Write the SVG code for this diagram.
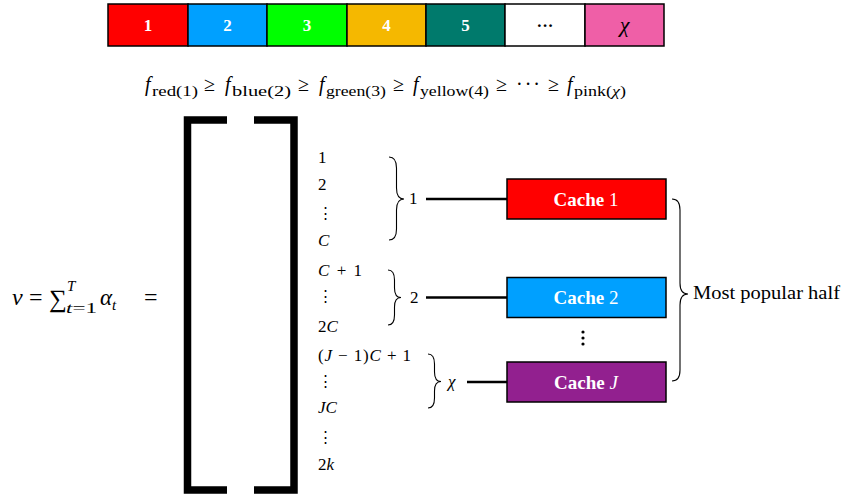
<svg xmlns="http://www.w3.org/2000/svg" width="843" height="496" viewBox="0 0 843 496">
<style>
.s{font-family:"Liberation Serif","DejaVu Serif",serif;fill:#000}
.i{font-style:italic}
.cell{stroke:#000;stroke-width:1.5}
.cl{font-family:"Liberation Serif","DejaVu Serif",serif;font-weight:bold;font-size:17px;fill:#fff;text-anchor:middle}
.box{stroke:#000;stroke-width:1.5}
.bl{font-family:"Liberation Serif","DejaVu Serif",serif;font-size:19px;fill:#fff;text-anchor:middle}
.col{font-family:"Liberation Serif","DejaVu Serif",serif;font-size:17px;fill:#000}
.vd{font-family:"DejaVu Serif",serif;font-size:15px;fill:#000}
.brace{fill:none;stroke:#000;stroke-width:1.1}
.conn{stroke:#000;stroke-width:2.5}
.bk{fill:none;stroke:#000;stroke-width:7.5;stroke-linejoin:miter;stroke-linecap:butt}
</style>
<rect width="843" height="496" fill="#fff"/>

<g id="colorbar">
  <rect class="cell" x="108" y="4" width="80" height="42" fill="#ff0000"/>
  <rect class="cell" x="188" y="4" width="79" height="42" fill="#00a0ff"/>
  <rect class="cell" x="267" y="4" width="80" height="42" fill="#00ff00"/>
  <rect class="cell" x="347" y="4" width="79" height="42" fill="#f5b800"/>
  <rect class="cell" x="426" y="4" width="79" height="42" fill="#007a6c"/>
  <rect class="cell" x="505" y="4" width="80" height="42" fill="#ffffff"/>
  <rect class="cell" x="585" y="4" width="79" height="42" fill="#ef5fa7"/>
  <text class="cl" x="148" y="31">1</text>
  <text class="cl" x="227.5" y="31">2</text>
  <text class="cl" x="307" y="31">3</text>
  <text class="cl" x="386.5" y="31">4</text>
  <text class="cl" x="465.5" y="31">5</text>
  <text class="cl" x="545" y="31" style="fill:#000">···</text>
  <text class="s i" x="624.5" y="32" font-size="22" text-anchor="middle">χ</text>
</g>

<g id="ordering">
  <text class="s i" x="145" y="91" font-size="20">f</text>
  <text class="s" x="152" y="96" font-size="14.5" textLength="46" lengthAdjust="spacingAndGlyphs">red(1)</text>
  <text class="s" x="204" y="91" font-size="20">≥</text>
  <text class="s i" x="225" y="91" font-size="20">f</text>
  <text class="s" x="232" y="96" font-size="14.5" textLength="59" lengthAdjust="spacingAndGlyphs">blue(2)</text>
  <text class="s" x="298" y="91" font-size="20">≥</text>
  <text class="s i" x="319" y="91" font-size="20">f</text>
  <text class="s" x="326" y="96" font-size="14.5" textLength="60" lengthAdjust="spacingAndGlyphs">green(3)</text>
  <text class="s" x="393" y="91" font-size="20">≥</text>
  <text class="s i" x="413" y="91" font-size="20">f</text>
  <text class="s" x="420" y="96" font-size="14.5" textLength="69" lengthAdjust="spacingAndGlyphs">yellow(4)</text>
  <text class="s" x="496" y="91" font-size="20">≥</text>
  <text class="s" x="516" y="91" font-size="20" textLength="24" lengthAdjust="spacing">···</text>
  <text class="s" x="548" y="91" font-size="20">≥</text>
  <text class="s i" x="567" y="91" font-size="20">f</text>
  <text class="s" x="574" y="96" font-size="14.5" textLength="52" lengthAdjust="spacingAndGlyphs">pink(<tspan font-style="italic">χ</tspan>)</text>
</g>

<g id="vformula">
  <text class="s i" x="12" y="305" font-size="24">v</text>
  <text class="s" x="29" y="305" font-size="24">=</text>
  <text class="s" x="49" y="307" font-size="25">∑</text>
  <text class="s i" x="67" y="291" font-size="15">T</text>
  <text class="s" x="66" y="313" font-size="15" textLength="31" lengthAdjust="spacingAndGlyphs"><tspan font-style="italic">t</tspan>=1</text>
  <text class="s i" x="100" y="305" font-size="23">α</text>
  <text class="s i" x="112" y="310" font-size="15">t</text>
  <text class="s" x="144" y="305" font-size="24">=</text>
</g>

<g id="matrix">
  <path class="bk" d="M227,120 H187.5 V490 H227"/>
  <path class="bk" d="M254,120 H294 V490 H254"/>
  <text class="col" x="318" y="163">1</text>
  <text class="col" x="318" y="190">2</text>
  <text class="vd" x="318" y="218">⋮</text>
  <text class="col i" x="318" y="246">C</text>
  <text class="col" x="318" y="276" textLength="44" lengthAdjust="spacing"><tspan font-style="italic">C</tspan> + 1</text>
  <text class="vd" x="318" y="301">⋮</text>
  <text class="col" x="318" y="332">2<tspan font-style="italic">C</tspan></text>
  <text class="col" x="318" y="361" textLength="93" lengthAdjust="spacing">(<tspan font-style="italic">J</tspan> − 1)<tspan font-style="italic">C</tspan> + 1</text>
  <text class="vd" x="318" y="386">⋮</text>
  <text class="col i" x="318" y="413">JC</text>
  <text class="vd" x="318" y="442">⋮</text>
  <text class="col" x="318" y="470">2<tspan font-style="italic">k</tspan></text>
</g>

<g id="group1">
  <path class="brace" d="M389,157 Q396.5,157 396.5,168 L396.5,188 Q396.5,199 404,199 Q396.5,199 396.5,210 L396.5,229 Q396.5,240 389,240"/>
  <text class="col" x="409" y="204">1</text>
</g>
<g id="group2">
  <path class="brace" d="M388,270 Q394.5,270 394.5,280 L394.5,288 Q394.5,297.5 401,297.5 Q394.5,297.5 394.5,307 L394.5,315 Q394.5,325 388,325"/>
  <text class="col" x="410" y="303">2</text>
</g>
<g id="groupchi">
  <path class="brace" d="M428,354 Q434.5,354 434.5,364 L434.5,372 Q434.5,381.5 441,381.5 Q434.5,381.5 434.5,391 L434.5,398 Q434.5,408 428,408"/>
  <text class="col i" x="448" y="387">χ</text>
</g>

<g id="cache1">
  <rect class="box" x="507" y="179" width="159" height="40" fill="#ff0000"/>
  <text class="bl" x="586" y="205.5"><tspan font-weight="bold">Cache</tspan> 1</text>
</g>
<g id="cache2">
  <rect class="box" x="507" y="277.5" width="159" height="40" fill="#00a0ff"/>
  <text class="bl" x="586" y="304"><tspan font-weight="bold">Cache</tspan> 2</text>
</g>
<g id="cacheJ">
  <rect class="box" x="507" y="362" width="159" height="40" fill="#92208f"/>
  <text class="bl" x="586" y="388.5"><tspan font-weight="bold">Cache</tspan> <tspan font-style="italic">J</tspan></text>
</g>
<g id="cachedots">
  <circle cx="583" cy="332" r="1.6"/>
  <circle cx="583" cy="338" r="1.6"/>
  <circle cx="583" cy="344" r="1.6"/>
</g>

<g id="popular">
  <path class="brace" d="M672,199 Q680,199 680,210 L680,283 Q680,294 688,294 Q680,294 680,305 L680,370 Q680,381 672,381"/>
  <text class="s" x="693" y="299" font-size="18" textLength="147" lengthAdjust="spacingAndGlyphs">Most popular half</text>
</g>

<g id="connectors">
  <line class="conn" x1="426" y1="199" x2="507" y2="199"/>
  <line class="conn" x1="426" y1="297.5" x2="507" y2="297.5"/>
  <line class="conn" x1="467" y1="382" x2="507" y2="382"/>
</g>
</svg>
